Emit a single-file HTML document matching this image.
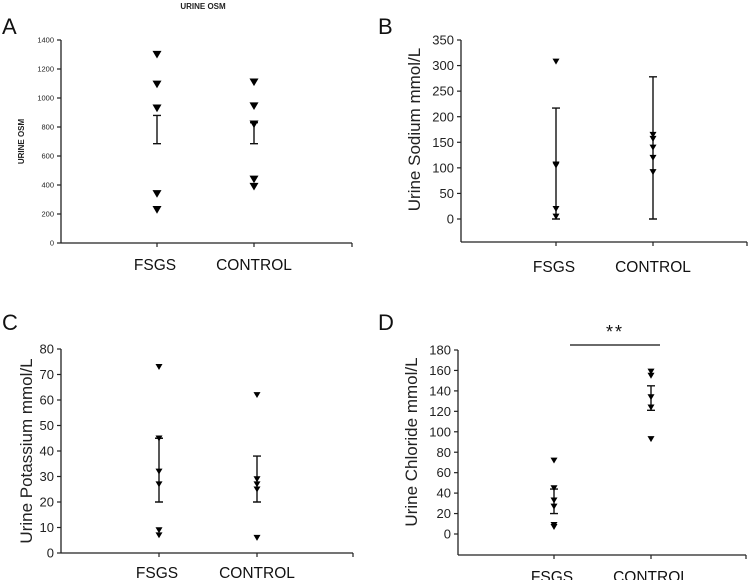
<!DOCTYPE html>
<html><head><meta charset="utf-8"><style>
body{margin:0;background:#fff;}
svg{display:block;font-family:"Liberation Sans",Arial,sans-serif;}
</style></head><body>
<svg id="fig" width="750" height="580" viewBox="0 0 750 580"></svg>
<script>
const categories=["FSGS","CONTROL"];
const aFsgs=[1300,1095,930,340,230];
const aCtrl=[1110,945,820,440,390];
const aErr=[[685,880],[685,830]];
const aTicks=[0,200,400,600,800,1000,1200,1400];
const bFsgs=[308,107,105,20,5];
const bCtrl=[165,157,140,120,92];
const bErr=[[0,217],[0,278]];
const bTicks=[0,50,100,150,200,250,300,350];
const cFsgs=[73,45,32,27,9,7];
const cCtrl=[62,29,27,25,6];
const cErr=[[20,45],[20,38]];
const cTicks=[0,10,20,30,40,50,60,70,80];
const dFsgs=[72,45,33,27,9,7];
const dCtrl=[159,155,134,124,93];
const dErr=[[20,44],[121,145]];
const dTicks=[0,20,40,60,80,100,120,140,160,180];

const NS="http://www.w3.org/2000/svg";
const svg=document.getElementById('fig');
function mk(tag,attrs,parent,text){const e=document.createElementNS(NS,tag);for(const k in attrs)e.setAttribute(k,attrs[k]);if(text!==undefined)e.textContent=text;(parent||svg).appendChild(e);return e;}

const panels=[
 {id:'a',letter:'A',lx:2,ly:34,ax:61,x1:352,y0:243,yTop:40,xAxisY:243,vmax:1400,cx:[157,254],ticks:aTicks,tickFs:7.5,ylab:'URINE OSM',ylabX:24,ylabFs:8,ylabBold:true,series:[aFsgs,aCtrl],err:aErr,catY:270,catFs:15.5,ms:4.5},
 {id:'b',letter:'B',lx:378,ly:34,ax:461,x1:747,y0:219,yTop:40,xAxisY:242,vmax:350,cx:[556,653],ticks:bTicks,tickFs:13,ylab:'Urine Sodium mmol/L',ylabX:420,ylabFs:17,series:[bFsgs,bCtrl],err:bErr,catY:272,catFs:15.5,ms:3.5},
 {id:'c',letter:'C',lx:2,ly:330,ax:61,x1:353,y0:553,yTop:349,xAxisY:553,vmax:80,cx:[159,257],ticks:cTicks,tickFs:13,ylab:'Urine Potassium  mmol/L',ylabX:32,ylabFs:17,series:[cFsgs,cCtrl],err:cErr,catY:578,catFs:15.5,ms:3.5},
 {id:'d',letter:'D',lx:378,ly:330,ax:458,x1:746,y0:534,yTop:350,xAxisY:555,vmax:180,cx:[554,651],ticks:dTicks,tickFs:13,ylab:'Urine Chloride mmol/L',ylabX:417,ylabFs:17,series:[dFsgs,dCtrl],err:dErr,catY:582,catFs:15.5,ms:3.5}
];

mk('text',{x:203,y:9,'text-anchor':'middle','font-size':8,'font-weight':'bold',fill:'#222',},svg,'URINE OSM');

panels.forEach(p=>{
 const g=mk('g',{});
 
 
 const y=v=>p.y0-(v/p.vmax)*(p.y0-p.yTop);
 const lt=mk('text',{x:p.lx,y:p.ly,'font-size':22,fill:'#111'},g,p.letter);
 
 
 const ya=mk('line',{x1:p.ax,y1:p.yTop,x2:p.ax,y2:p.xAxisY,stroke:'#222','stroke-width':1.3},g);
 
 
 const xa=mk('line',{x1:p.ax,y1:p.xAxisY,x2:p.x1,y2:p.xAxisY,stroke:'#222','stroke-width':1.3},g);
 
 
 mk('line',{x1:p.x1,y1:p.xAxisY,x2:p.x1,y2:p.xAxisY+4,stroke:'#222','stroke-width':1.2},g);
 p.ticks.forEach(t=>{
  mk('line',{x1:p.ax-4,y1:y(t),x2:p.ax,y2:y(t),stroke:'#222','stroke-width':1.2},g);
  const tl=mk('text',{x:p.ax-7,y:y(t)+p.tickFs*0.35,'text-anchor':'end','font-size':p.tickFs,fill:'#222'},g,String(t));
  
  
 });
 const yl=mk('text',{x:p.ylabX,y:(p.yTop+p.y0)/2,'text-anchor':'middle','font-size':p.ylabFs,fill:'#222','font-weight':p.ylabBold?'bold':'normal',transform:`rotate(-90 ${p.ylabX} ${(p.yTop+p.y0)/2})`},g,p.ylab);
 
 
 categories.forEach((c,i)=>{
  const x=p.cx[i];
  mk('line',{x1:x,y1:p.xAxisY,x2:x,y2:p.xAxisY+4,stroke:'#222','stroke-width':1.2},g);
  const cl=mk('text',{x:x+(i===0?-2:0),y:p.catY,'text-anchor':'middle','font-size':p.catFs,fill:'#111'},g,c);
  
  
  const [lo,hi]=p.err[i];
  const eb=mk('path',{d:`M${x},${y(lo)}V${y(hi)}M${x-4},${y(lo)}H${x+4}M${x-4},${y(hi)}H${x+4}`,stroke:'#111','stroke-width':1.4,fill:'none'},g);
  
  
  p.series[i].forEach(v=>{
   const yy=y(v),s=p.ms;
   const m=mk('path',{d:`M${x-s},${yy-s*0.8}L${x+s},${yy-s*0.8}L${x},${yy+s*0.9}Z`,fill:'#000'},g);
   
   
  });
 });
});
const sb=mk('line',{x1:570,y1:345,x2:660,y2:345,stroke:'#111','stroke-width':1.2});


const st=mk('text',{x:615,y:338,'text-anchor':'middle','font-size':18,fill:'#111','letter-spacing':'2'},svg,'**');


</script>
</body></html>
